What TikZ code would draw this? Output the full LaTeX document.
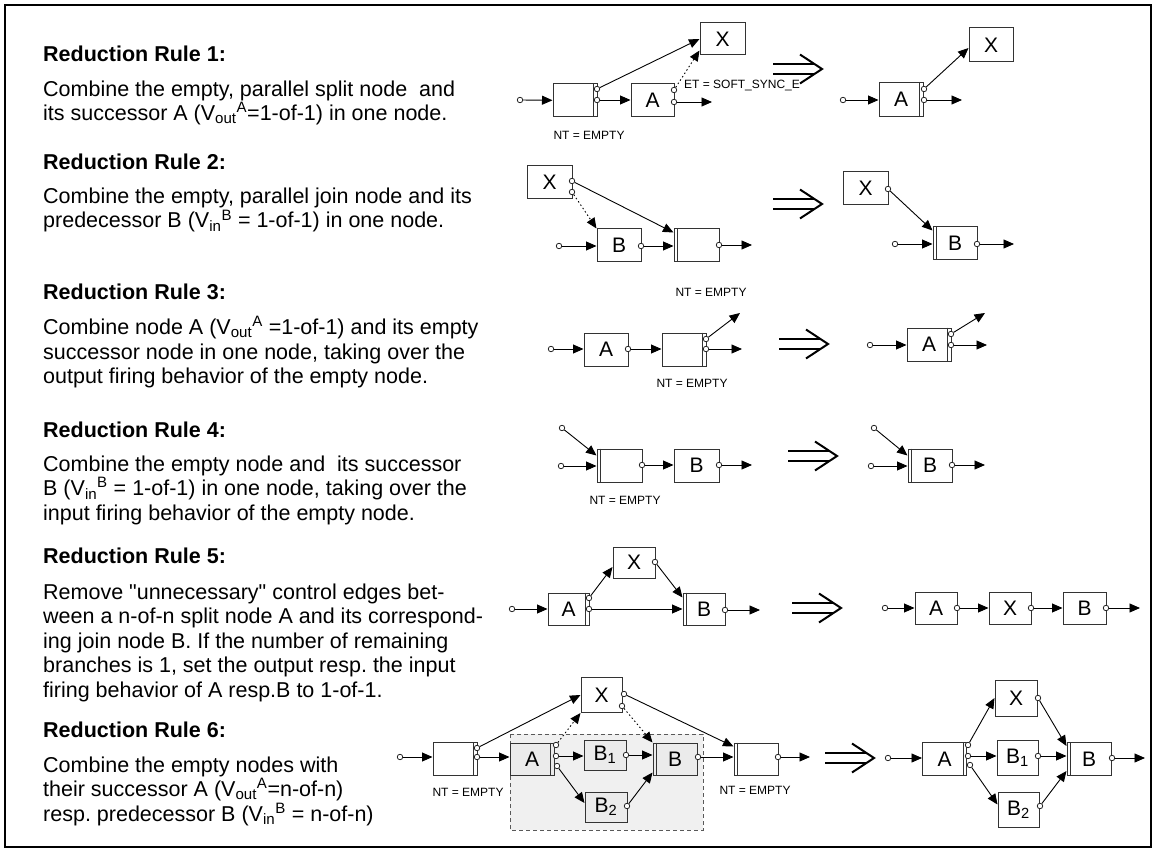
\documentclass[tikz,border=0pt]{standalone}
\usepackage{fontspec}
\setmainfont{Liberation Sans}[Ligatures=TeXOff]
\usetikzlibrary{arrows.meta}
\frenchspacing

% second vertical stroke inside a box, marking a split (right) or join (left) side
\newcommand\dblright[1]{\draw[boxline] ([xshift=-4pt]#1.north east) -- ([xshift=-4pt]#1.south east);}
\newcommand\dblleft[1]{\draw[boxline] ([xshift=4pt]#1.north west) -- ([xshift=4pt]#1.south west);}

\begin{document}
\begin{tikzpicture}[x=1pt,y=-1pt,
  boxline/.style={draw=black!80, line width=1pt},
  box/.style={boxline, fill=white, minimum width=44pt, minimum height=33pt,
    inner sep=0pt, font=\fontsize{21}{21}\selectfont},
  greybox/.style={box, fill=black!8},
  port/.style={circle, draw=black!85, fill=white, line width=0.8pt,
    minimum size=5.5pt, inner sep=0pt},
  arr/.style={draw=black, line width=0.9pt, -{Triangle[length=10.5pt,width=9pt]}},
  ctl/.style={arr, dash pattern=on 1.5pt off 2.5pt},
  tag/.style={font=\fontsize{12}{12}\selectfont, inner sep=0pt},
  head/.style={anchor=base west, inner sep=0pt, font=\fontsize{21.5}{24}\selectfont\bfseries},
  body/.style={anchor=base west, inner sep=0pt, font=\fontsize{21.5}{24}\selectfont},
  impl/.pic={
    \draw[line width=2.6pt] (0,-5) -- (41,-5) (0,5) -- (41,5);
    \draw[line width=2pt, line join=miter] (27,-14.5) -- (49,0) -- (27,14.5);
  }
]
\useasboundingbox (0,0) rectangle (1156,850);
\draw[line width=2.6pt] (5,5) rectangle (1151,847);

% ---------------- rule texts ----------------
\node[head] (h1) at (43,62) {Reduction Rule 1:};
\node[body] (t11) at (43,97) {Combine the empty, parallel split node\ \ and};
\node[body] (t12) at (43,120.5) {its successor A (V\textsubscript{out}\textsuperscript{A}=1-of-1) in one node.};
\node[head] (h2) at (43,170) {Reduction Rule 2:};
\node[body] (t21) at (43,204) {Combine the empty, parallel join node and its};
\node[body] (t22) at (43,228) {predecessor B (V\textsubscript{in}\textsuperscript{B} = 1-of-1) in one node.};
\node[head] (h3) at (43,299.5) {Reduction Rule 3:};
\node[body] (t31) at (43,334.5) {Combine node A (V\textsubscript{out}\textsuperscript{A} =1-of-1) and its empty};
\node[body] (t32) at (43,359) {successor node in one node, taking over the};
\node[body] (t33) at (43,383.5) {output firing behavior of the empty node.};
\node[head] (h4) at (43,437) {Reduction Rule 4:};
\node[body] (t41) at (43,471) {Combine the empty node and\ \ its successor};
\node[body] (t42) at (43,495.5) {B (V\textsubscript{in}\textsuperscript{B} = 1-of-1) in one node, taking over the};
\node[body] (t43) at (43,520) {input firing behavior of the empty node.};
\node[head] (h5) at (43,563.5) {Reduction Rule 5:};
\node[body] (t51) at (43,599) {Remove "unnecessary" control edges bet-};
\node[body] (t52) at (43,623.5) {ween a n-of-n split node A and its correspond-};
\node[body] (t53) at (43,648) {ing join node B. If the number of remaining};
\node[body] (t54) at (43,672.5) {branches is 1, set the output resp. the input};
\node[body] (t55) at (43,697) {firing behavior of A resp.B to 1-of-1.};
\node[head] (h6) at (43,737) {Reduction Rule 6:};
\node[body] (t61) at (43,772.5) {Combine the empty nodes with};
\node[body] (t62) at (43,796.5) {their successor A (V\textsubscript{out}\textsuperscript{A}=n-of-n)};
\node[body] (t63) at (43,821) {resp. predecessor B (V\textsubscript{in}\textsuperscript{B} = n-of-n)};

% ---------------- rule 1 ----------------
\node[box] (r1e) at (575,100.5) {};
\node[box, minimum width=45pt, minimum height=32pt] (r1x) at (722.5,39) {X};
\node[box, minimum width=43pt] (r1a) at (652.5,100.5) {A};
\dblright{r1e}
\node[port] (r1in) at (520,100) {};
\node[port] (r1e1) at (597,89) {};
\node[port] (r1e2) at (597,100) {};
\node[port] (r1a1) at (674,90) {};
\node[port] (r1a2) at (674,102) {};
\coordinate (r1o) at (712,102);
\draw[arr] (r1in) -- (r1e);
\draw[arr] (r1e1) -- (r1x.west);
\draw[arr] (r1e2) -- (r1a.west |- r1e2);
\draw[ctl] (r1a1) -- ([yshift=5pt]r1x.south west);
\draw[arr] (r1a2) -- (r1o);
\node[tag, anchor=west] (r1et) at (684,86) {ET = SOFT\_SYNC\_E};
\node[tag] (r1nt) at (589,135) {NT = EMPTY};
\pic at (773,69) {impl};

\node[box, minimum height=34pt] (r1ra) at (901,99.5) {A};
\node[box, minimum height=34pt] (r1rx) at (991,45) {X};
\dblright{r1ra}
\node[port] (r1rin) at (843,100) {};
\node[port] (r1ra1) at (924,89) {};
\node[port] (r1ra2) at (924,100) {};
\coordinate (r1ro) at (962,100);
\draw[arr] (r1rin) -- (r1ra.west |- r1rin);
\draw[arr] (r1ra1) -- ([yshift=-3pt]r1rx.west);
\draw[arr] (r1ra2) -- (r1ro);

% ---------------- rule 2 ----------------
\node[box, minimum width=45pt] (r2x) at (549.5,182.5) {X};
\node[box] (r2b) at (619,245.5) {B};
\node[box, minimum width=45pt] (r2e) at (696.5,245.5) {};
\dblleft{r2e}
\node[port] (r2x1) at (572,181) {};
\node[port] (r2x2) at (572,192) {};
\node[port] (r2in) at (559,246) {};
\node[port] (r2b1) at (641,246) {};
\node[port] (r2e1) at (719,245) {};
\coordinate (r2o) at (752,245);
\draw[arr] (r2in) -- (r2b.west |- r2in);
\draw[arr] (r2b1) -- (r2e.west |- r2b1);
\draw[arr] (r2x1) -- ([yshift=-4pt]r2e.north west);
\draw[ctl] (r2x2) -- (r2b.north west);
\draw[arr] (r2e1) -- (r2o);
\node[tag] (r2nt) at (711,292) {NT = EMPTY};
\pic at (773,204) {impl};

\node[box, minimum width=45pt] (r2rx) at (865.5,188.5) {X};
\node[box] (r2rb) at (955,243.5) {B};
\dblleft{r2rb}
\node[port] (r2rx1) at (888,189) {};
\node[port] (r2rin) at (895,244) {};
\node[port] (r2rb1) at (977,244) {};
\coordinate (r2ro) at (1014,244);
\draw[arr] (r2rin) -- (r2rb.west |- r2rin);
\draw[arr] (r2rx1) -- ([yshift=-4pt]r2rb.north west);
\draw[arr] (r2rb1) -- (r2ro);

% ---------------- rule 3 ----------------
\node[box] (r3a) at (606,349.5) {A};
\node[box] (r3e) at (684,349.5) {};
\dblright{r3e}
\node[port] (r3in) at (551,349) {};
\node[port] (r3a1) at (628,349) {};
\node[port] (r3e1) at (706,339) {};
\node[port] (r3e2) at (706,349) {};
\coordinate (r3o1) at (740,313);
\coordinate (r3o2) at (742,349);
\draw[arr] (r3in) -- (r3a.west |- r3in);
\draw[arr] (r3a1) -- (r3e.west |- r3a1);
\draw[arr] (r3e1) -- (r3o1);
\draw[arr] (r3e2) -- (r3o2);
\node[tag] (r3nt) at (692,383) {NT = EMPTY};
\pic at (779,344) {impl};

\node[box] (r3ra) at (929,344.5) {A};
\dblright{r3ra}
\node[port] (r3rin) at (870,345) {};
\node[port] (r3ra1) at (951,334) {};
\node[port] (r3ra2) at (951,345) {};
\coordinate (r3ro1) at (985,313);
\coordinate (r3ro2) at (987,345);
\draw[arr] (r3rin) -- (r3ra.west |- r3rin);
\draw[arr] (r3ra1) -- (r3ro1);
\draw[arr] (r3ra2) -- (r3ro2);

% ---------------- rule 4 ----------------
\node[box, minimum width=45pt] (r4e) at (619.5,465.5) {};
\node[box, minimum width=45pt] (r4b) at (696.5,465.5) {B};
\dblleft{r4e}
\node[port] (r4top) at (562,428) {};
\node[port] (r4in) at (561,466) {};
\node[port] (r4e1) at (642,465) {};
\node[port] (r4b1) at (719,465) {};
\coordinate (r4o) at (752,465);
\draw[arr] (r4top) -- ([yshift=-7pt]r4e.north west);
\draw[arr] (r4in) -- (r4e.west |- r4in);
\draw[arr] (r4e1) -- (r4b.west |- r4e1);
\draw[arr] (r4b1) -- (r4o);
\node[tag] (r4nt) at (625,500) {NT = EMPTY};
\pic at (788,456) {impl};

\node[box] (r4rb) at (930,465.5) {B};
\dblleft{r4rb}
\node[port] (r4rtop) at (874,428) {};
\node[port] (r4rin) at (871,466) {};
\node[port] (r4rb1) at (952,465) {};
\coordinate (r4ro) at (985,465);
\draw[arr] (r4rtop) -- ([yshift=-7pt]r4rb.north west);
\draw[arr] (r4rin) -- (r4rb.west |- r4rin);
\draw[arr] (r4rb1) -- (r4ro);

% ---------------- rule 5 ----------------
\node[box, minimum width=42pt, minimum height=31pt] (r5x) at (634,562.5) {X};
\node[box, minimum width=41pt, minimum height=32pt] (r5a) at (568.5,609) {A};
\node[box, minimum width=42pt, minimum height=32pt] (r5b) at (704,609) {B};
\dblright{r5a}
\dblleft{r5b}
\node[port] (r5in) at (512,609) {};
\node[port] (r5a1) at (589,598) {};
\node[port] (r5a2) at (589,609) {};
\node[port] (r5x1) at (655,562) {};
\node[port] (r5b1) at (725,610) {};
\coordinate (r5o) at (760,610);
\draw[arr] (r5in) -- (r5a.west |- r5in);
\draw[arr] (r5a1) -- ([yshift=-4.5pt]r5x.west);
\draw[arr] (r5a2) -- (r5b.west |- r5a2);
\draw[arr] (r5x1) -- ([yshift=-5pt]r5b.north west);
\draw[arr] (r5b1) -- (r5o);
\pic at (792,608) {impl};

\node[box, minimum width=42pt, minimum height=32pt] (r5ra) at (936,608.5) {A};
\node[box, minimum width=42pt, minimum height=32pt] (r5rx) at (1010,608.5) {X};
\node[box, minimum width=43pt, minimum height=32pt] (r5rb) at (1084.5,608.5) {B};
\node[port] (r5rin) at (885,608) {};
\node[port] (r5ra1) at (957,608) {};
\node[port] (r5rx1) at (1031,608) {};
\node[port] (r5rb1) at (1106,608) {};
\coordinate (r5ro) at (1140,608);
\draw[arr] (r5rin) -- (r5ra.west |- r5rin);
\draw[arr] (r5ra1) -- (r5rx.west |- r5ra1);
\draw[arr] (r5rx1) -- (r5rb.west |- r5rx1);
\draw[arr] (r5rb1) -- (r5ro);

% ---------------- rule 6 ----------------
\path[fill=black!6, draw=black!65, line width=0.8pt, dash pattern=on 4pt off 3pt]
  (510,734) rectangle (703,830);
\node[box, minimum width=41pt, minimum height=35pt] (r6x) at (601.5,695) {X};
\node[box] (r6e1) at (455,759) {};
\node[greybox, minimum height=32pt] (r6a) at (532,759) {A};
\node[greybox, minimum width=42pt, minimum height=30pt] (r6b1) at (605,755) {B\textsubscript{1}};
\node[greybox, minimum width=42pt, minimum height=30pt] (r6b2) at (606,807) {B\textsubscript{2}};
\node[greybox, minimum height=32pt] (r6b) at (675,759) {B};
\node[box, minimum height=32pt] (r6e2) at (756,759) {};
\dblright{r6e1}
\dblright{r6a}
\dblleft{r6b}
\dblleft{r6e2}
\node[port] (r6in) at (400,757) {};
\node[port] (r6e1a) at (477,748) {};
\node[port] (r6e1b) at (477,757) {};
\node[port] (r6a1) at (556,745) {};
\node[port] (r6a2) at (556,756) {};
\node[port] (r6a3) at (557,766) {};
\node[port] (r6x1) at (624,694) {};
\node[port] (r6x2) at (622,706) {};
\node[port] (r6b11) at (626,755) {};
\node[port] (r6b21) at (627,806) {};
\node[port] (r6b1o) at (698,757) {};
\node[port] (r6e2o) at (778,757) {};
\coordinate (r6o) at (810,757);
\draw[arr] (r6in) -- (r6e1.west |- r6in);
\draw[arr] (r6e1a) -- (r6x.west);
\draw[arr] (r6e1b) -- (r6a.west |- r6e1b);
\draw[ctl] (r6a1) -- (r6x.south west);
\draw[arr] (r6a2) -- (r6b1.west |- r6a2);
\draw[arr] (r6a3) -- ([yshift=4pt]r6b2.west);
\draw[arr] (r6b11) -- (r6b.west |- r6b11);
\draw[arr] (r6b21) -- ([yshift=3pt]r6b.south west);
\draw[ctl] (r6x2) -- (r6b.north west);
\draw[arr] (r6x1) -- ([yshift=-4pt]r6e2.north west);
\draw[arr] (r6b1o) -- (r6e2.west |- r6b1o);
\draw[arr] (r6e2o) -- (r6o);
\node[tag] (r6nt1) at (468,792) {NT = EMPTY};
\node[tag] (r6nt2) at (755,790) {NT = EMPTY};
\pic at (825,758) {impl};

\node[box] (r6ra) at (944.5,759) {A};
\node[box, minimum width=42pt, minimum height=36pt] (r6rx) at (1016,698) {X};
\node[box, minimum width=41pt, minimum height=35pt] (r6rb1) at (1017.5,757.5) {B\textsubscript{1}};
\node[box, minimum width=41pt, minimum height=35pt] (r6rb2) at (1018.5,809.5) {B\textsubscript{2}};
\node[box] (r6rb) at (1089,759) {B};
\dblright{r6ra}
\dblleft{r6rb}
\node[port] (r6rin) at (888,758) {};
\node[port] (r6ra1) at (968,745) {};
\node[port] (r6ra2) at (968,756) {};
\node[port] (r6ra3) at (970,765) {};
\node[port] (r6rx1) at (1038,698) {};
\node[port] (r6rb11) at (1038,756) {};
\node[port] (r6rb21) at (1040,806) {};
\node[port] (r6rbo) at (1112,758) {};
\coordinate (r6ro) at (1145,758);
\draw[arr] (r6rin) -- (r6ra.west |- r6rin);
\draw[arr] (r6ra1) -- (r6rx.west);
\draw[arr] (r6ra2) -- (r6rb1.west |- r6ra2);
\draw[arr] (r6ra3) -- ([yshift=5pt]r6rb2.west);
\draw[arr] (r6rx1) -- ([yshift=-4pt]r6rb.north west);
\draw[arr] (r6rb11) -- (r6rb.west |- r6rb11);
\draw[arr] (r6rb21) -- ([yshift=5pt]r6rb.south west);
\draw[arr] (r6rbo) -- (r6ro);
\end{tikzpicture}
\end{document}
